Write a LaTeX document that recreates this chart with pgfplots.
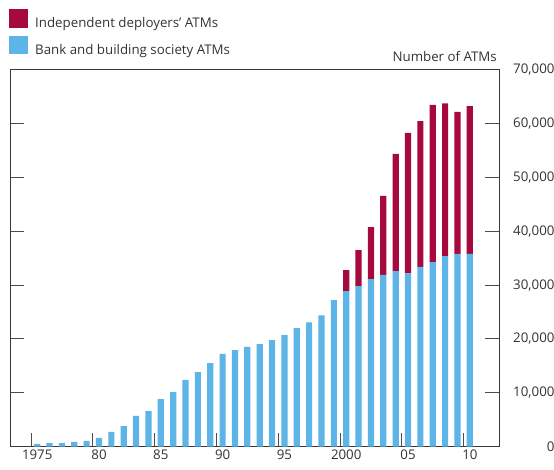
\documentclass[border=0pt]{standalone}
\usepackage{pgfplots}
\pgfplotsset{compat=1.18}
\usepackage{pgfplotstable}
\usepackage{fontspec}
\setmainfont{Open Sans}
\definecolor{atmred}{HTML}{A6093D}
\definecolor{atmblue}{HTML}{5CB5E6}
\definecolor{txt}{HTML}{333333}
\newcommand{\lbl}{\fontsize{13.3}{15}\selectfont}
\pgfplotstableread{
year bank indep
1975 480 0
1976 650 0
1977 650 0
1978 850 0
1979 1050 0
1980 1600 0
1981 2700 0
1982 3800 0
1983 5700 0
1984 6600 0
1985 8800 0
1986 10100 0
1987 12400 0
1988 13850 0
1989 15500 0
1990 17200 0
1991 17900 0
1992 18500 0
1993 19050 0
1994 19800 0
1995 20700 0
1996 22000 0
1997 23100 0
1998 24400 0
1999 27200 0
2000 28900 3900
2001 29800 6700
2002 31100 9700
2003 31900 14700
2004 32600 21800
2005 32200 26100
2006 33400 27100
2007 34300 29200
2008 35400 28400
2009 35800 26400
2010 35800 27500
}\datatable
\begin{document}
\begin{tikzpicture}
\path[use as bounding box] (-10pt,-22.5pt) rectangle (544pt,446.5pt);
\begin{axis}[
  at={(0pt,0pt)}, anchor=south west,
  scale only axis, width=489pt, height=376.5pt,
  xmin=1972.8, xmax=2012.36, ymin=0, ymax=70000,
  clip=false,
  ybar stacked, bar width=0.5,
  axis line style={draw=black!78, line width=1pt},
  tick align=inside,
  major tick length=14pt,
  tick style={draw=black!70, line width=1pt},
  xtick={1974.5,1979.5,1984.5,1989.5,1994.5,1999.5,2004.5,2009.5},
  xticklabels={1975,80,85,90,95,2000,05,10},
  xticklabel style={xshift=6.2pt, font=\lbl, text=txt},
  xtick pos=left,
  ytick={0,10000,20000,30000,40000,50000,60000,70000},
  yticklabel pos=right,
  scaled y ticks=false,
  yticklabel style={/pgf/number format/1000 sep={,}, /pgf/number format/assume math mode=true,
     anchor=east, xshift=59pt, font=\lbl, text=txt},
  reverse legend,
  legend cell align=left,
  legend image code/.code={\fill[#1,draw=none] (0pt,-4.5pt) rectangle (18.5pt,14pt);},
  legend style={at={(rel axis cs:0,1)}, anchor=north west, xshift=-1pt, yshift=61pt,
     draw=none, fill=none, inner sep=0pt, row sep=7pt,
     nodes={inner sep=0pt, text=txt, font=\lbl},
     /tikz/every odd column/.append style={column sep=7.5pt}},
]
\addplot[fill=atmblue, draw=none] table[x=year,y=bank]{\datatable};
\addlegendentry{Bank and building society ATMs}
\addplot[fill=atmred, draw=none] table[x=year,y=indep]{\datatable};
\addlegendentry{Independent deployers’ ATMs}
\node[anchor=base east, inner sep=0pt, text=txt, font=\lbl, xshift=-2pt, yshift=8pt] at (rel axis cs:1,1) {Number of ATMs};
\end{axis}
\end{tikzpicture}
\end{document}
